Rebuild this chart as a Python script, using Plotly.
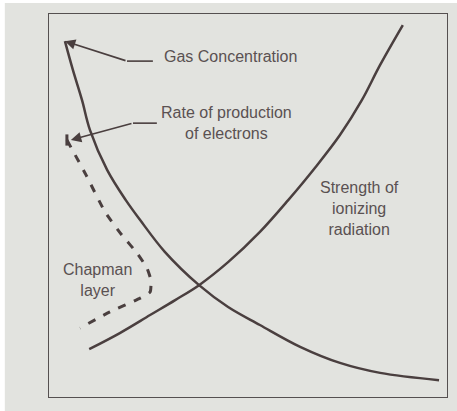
import plotly.graph_objects as go

# schematic values, 0-100 scale (x = quantity, y = height)
gas_x = [4.0, 6.0, 8.3, 10.3, 14.6, 19.3, 22.9, 29.1, 37.7, 45.0, 53.0, 63.1, 73.1, 83.2, 98.0]
gas_y = [92.9, 85.4, 77.5, 69.7, 59.3, 51.4, 46.2, 37.9, 29.2, 23.5, 18.8, 13.1, 8.9, 6.3, 4.4]

rad_x = [10.1, 17.8, 25.4, 31.7, 37.7, 45.0, 53.0, 60.1, 66.8, 73.1, 78.6, 83.2, 88.9]
rad_y = [12.5, 16.7, 21.4, 25.3, 29.2, 35.2, 43.1, 51.4, 59.8, 68.4, 77.5, 86.7, 97.1]

chap_x = [4.5, 9.3, 14.1, 18.3, 22.1, 24.6, 25.6, 25.4, 22.9, 15.3, 7.8]
chap_y = [67.1, 58.0, 48.3, 42.3, 37.6, 33.7, 30.5, 27.4, 25.8, 22.2, 18.0]

LINE = "#4a3f3f"
TEXT = "#5a5152"
FONT = dict(family="Liberation Sans, Arial, sans-serif", size=16, color=TEXT)

fig = go.Figure()

fig.add_trace(go.Scatter(x=gas_x, y=gas_y, mode="lines", line=dict(color=LINE, width=2.5, shape="spline"),
                         name="Gas Concentration", showlegend=False))
fig.add_trace(go.Scatter(x=rad_x, y=rad_y, mode="lines", line=dict(color=LINE, width=2.5, shape="spline"),
                         name="Strength of ionizing radiation", showlegend=False))
fig.add_trace(go.Scatter(x=chap_x, y=chap_y, mode="lines",
                         line=dict(color=LINE, width=3, dash="8px,9px", shape="spline", smoothing=0.5),
                         name="Rate of production of electrons", showlegend=False))
# small end tick at top of dashed curve
fig.add_trace(go.Scatter(x=chap_x[:1], y=chap_y[:1], mode="markers",
                         marker=dict(symbol="line-ns", size=8, color=LINE, line=dict(color=LINE, width=3)),
                         showlegend=False, hoverinfo="skip"))

# labels
fig.add_annotation(x=28.4, y=88.8, text="Gas Concentration", showarrow=False, xanchor="left", font=FONT)
fig.add_annotation(x=44.7, y=71.5, text="Rate of production<br>of electrons", showarrow=False, align="center", font=FONT)
fig.add_annotation(x=78.1, y=49.1, text="Strength of<br>ionizing<br>radiation", showarrow=False, align="center", font=FONT)
fig.add_annotation(x=12.1, y=30.5, text="Chapman<br>layer", showarrow=False, align="center", font=FONT)
fig.add_annotation(x=-4.5, y=14.9, text="Height", textangle=-90, showarrow=False, font=FONT)

# leader arrows
arrow = dict(showarrow=True, arrowhead=2, arrowsize=1.3, arrowwidth=1.6, arrowcolor=LINE,
             axref="x", ayref="y", text="")
fig.add_annotation(x=4.0, y=92.9, ax=19.6, ay=87.7, **arrow)
fig.add_annotation(x=5.5, y=67.1, ax=21.1, ay=71.5, **arrow)
fig.add_annotation(x=-4.3, y=65.3, ax=-4.3, ay=25.3, **arrow)
fig.add_shape(type="line", x0=19.6, y0=87.7, x1=26.1, y1=87.7, line=dict(color=LINE, width=1.6))
fig.add_shape(type="line", x0=21.1, y0=71.5, x1=27.1, y1=71.5, line=dict(color=LINE, width=1.6))

# grey scanned page
fig.add_shape(type="rect", xref="paper", yref="paper", x0=-0.111, x1=1.03, y0=-0.04, y1=1.029,
              fillcolor="#e2e3df", line=dict(width=0), layer="below")

axis = dict(showgrid=False, zeroline=False, showticklabels=False, ticks="",
            showline=True, mirror=True, linecolor="#555050", linewidth=1.3, range=[0, 100])
fig.update_xaxes(**axis)
fig.update_yaxes(**axis)

fig.update_layout(
    width=457, height=411,
    margin=dict(l=49, r=10, t=14, b=14),
    paper_bgcolor="white",
    plot_bgcolor="rgba(0,0,0,0)",
    showlegend=False,
)

fig.write_html("out.html", config={"displayModeBar": False},
               post_script="document.body.style.margin='0';")
